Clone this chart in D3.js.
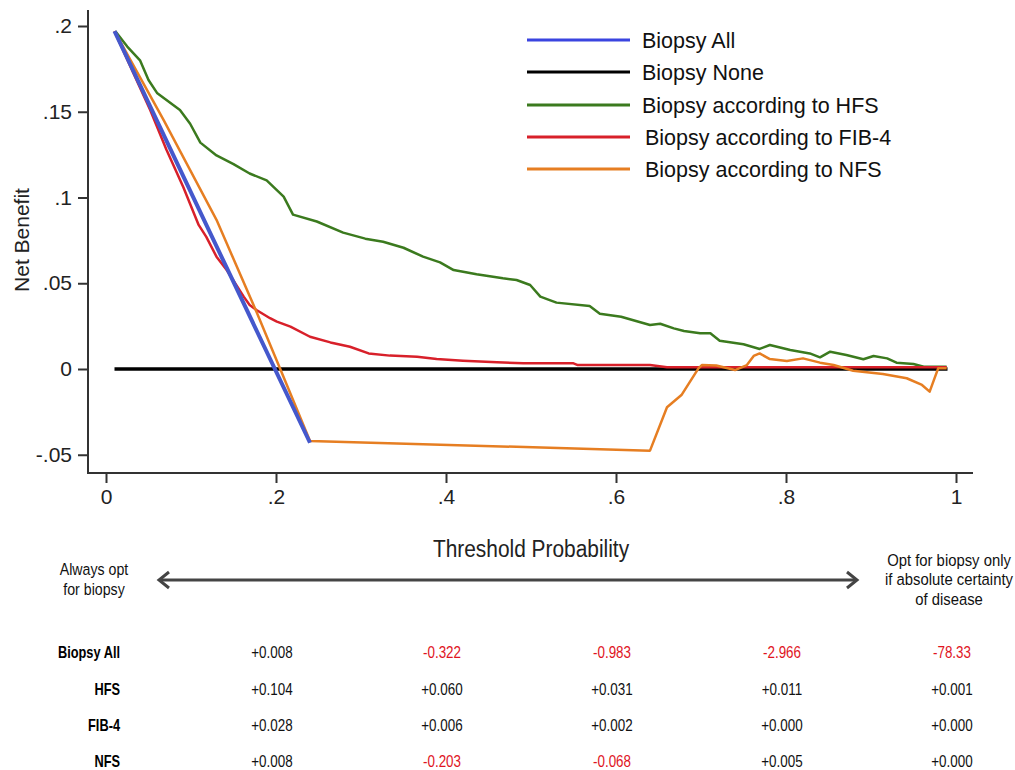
<!DOCTYPE html>
<html>
<head>
<meta charset="utf-8">
<script src="https://cdn.jsdelivr.net/npm/d3@7"></script>
<style>
  body { margin: 0; background: #fff; }
  svg { display: block; }
</style>
</head>
<body>
<svg id="chart" width="1015" height="770"></svg>
<script>
// Decision curve: net benefit by threshold probability
const xTicks = [0, 0.2, 0.4, 0.6, 0.8, 1];
const xTickLabels = ["0", ".2", ".4", ".6", ".8", "1"];
const yTicks = [-0.05, 0, 0.05, 0.1, 0.15, 0.2];
const yTickLabels = ["-.05", "0", ".05", ".1", ".15", ".2"];

const seriesNames = ["Biopsy All", "Biopsy None", "Biopsy according to HFS",
                     "Biopsy according to FIB-4", "Biopsy according to NFS"];
const seriesColors = ["#4558cc", "#000000", "#3b7a1e", "#d8202a", "#e67e22"];

// [threshold, net benefit]
const biopsyAll = [[0.01, 0.197], [0.12, 0.082], [0.24, -0.043]];
const biopsyNone = [[0.01, 0], [0.99, 0]];
const hfs = [
  [0.011, 0.197], [0.025, 0.188], [0.040, 0.180], [0.050, 0.1685], [0.060, 0.161],
  [0.087, 0.151], [0.099, 0.143], [0.111, 0.132], [0.130, 0.1245], [0.150, 0.1195],
  [0.169, 0.114], [0.189, 0.110], [0.209, 0.1005], [0.220, 0.090], [0.248, 0.086],
  [0.279, 0.0795], [0.305, 0.076], [0.326, 0.0742], [0.350, 0.0707], [0.373, 0.0655],
  [0.393, 0.0622], [0.409, 0.0577], [0.436, 0.0552], [0.467, 0.0529], [0.483, 0.0519],
  [0.499, 0.049], [0.511, 0.0422], [0.522, 0.0402], [0.530, 0.0387], [0.569, 0.0367],
  [0.581, 0.0322], [0.606, 0.0305], [0.640, 0.0257], [0.652, 0.0264], [0.668, 0.0237],
  [0.680, 0.0222], [0.699, 0.0208], [0.711, 0.0208], [0.722, 0.0165], [0.750, 0.0144],
  [0.769, 0.0117], [0.781, 0.014], [0.805, 0.0111], [0.828, 0.0091], [0.840, 0.0068],
  [0.852, 0.0101], [0.871, 0.0082], [0.891, 0.0057], [0.903, 0.0076], [0.919, 0.0062],
  [0.930, 0.0037], [0.950, 0.0029], [0.962, 0.0013], [0.989, 0.0013]
];
const fib4 = [
  [0.010, 0.197], [0.030, 0.175], [0.052, 0.151], [0.071, 0.128], [0.091, 0.106],
  [0.109, 0.084], [0.118, 0.077], [0.130, 0.0655], [0.142, 0.0577],
  [0.162, 0.0422], [0.169, 0.0373], [0.177, 0.0344], [0.193, 0.0296], [0.201, 0.0276],
  [0.217, 0.0247], [0.240, 0.0188], [0.264, 0.0155], [0.287, 0.013], [0.309, 0.0091],
  [0.334, 0.0078], [0.366, 0.0072], [0.389, 0.0058], [0.420, 0.0048], [0.460, 0.0039],
  [0.491, 0.0033], [0.522, 0.0033], [0.550, 0.0033], [0.555, 0.0023], [0.640, 0.0023],
  [0.660, 0.0010], [0.989, 0.0010]
];
const nfs = [
  [0.010, 0.197], [0.068, 0.145], [0.130, 0.087], [0.177, 0.0334], [0.205, 0.000],
  [0.240, -0.042], [0.640, -0.0476], [0.660, -0.0223], [0.677, -0.0152], [0.697, 0.0004],
  [0.701, 0.0023], [0.718, 0.0020], [0.740, -0.0006], [0.754, 0.0023], [0.762, 0.0076],
  [0.769, 0.0091], [0.781, 0.0058], [0.801, 0.0047], [0.820, 0.0062], [0.840, 0.0037],
  [0.856, 0.0023], [0.879, -0.001], [0.914, -0.0029], [0.942, -0.0054], [0.960, -0.0093],
  [0.969, -0.0132], [0.979, 0.0004], [0.989, 0.0004]
];

// Net benefit table below the chart
const tableThresholds = [0.2, 0.4, 0.6, 0.8, 1.0];
const tableRowLabels = ["Biopsy All", "HFS", "FIB-4", "NFS"];
const tableAll  = ["+0.008", "-0.322", "-0.983", "-2.966", "-78.33"];
const tableHFS  = ["+0.104", "+0.060", "+0.031", "+0.011", "+0.001"];
const tableFIB4 = ["+0.028", "+0.006", "+0.002", "+0.000", "+0.000"];
const tableNFS  = ["+0.008", "-0.203", "-0.068", "+0.005", "+0.000"];

const svg = d3.select("#chart");
svg.append("rect").attr("width", 1015).attr("height", 770).attr("fill", "#fff");

const x = d3.scaleLinear().domain([0, 1]).range([106, 956]);
const y = d3.scaleLinear().domain([-0.05, 0.2]).range([454.75, 26]);

const axisColor = "#333";
const tickFont = "'Liberation Sans', Arial, sans-serif";

// Y axis
const gy = svg.append("g").attr("transform", "translate(88,0)")
  .call(d3.axisLeft(y).tickValues(yTicks).tickFormat((d, i) => yTickLabels[i])
        .tickSize(10).tickPadding(6));
gy.select(".domain").remove();
gy.selectAll(".tick line").attr("stroke", axisColor).attr("stroke-width", 2);
gy.selectAll(".tick text").attr("font-size", 21).attr("font-family", tickFont).attr("fill", "#222");
svg.append("line").attr("x1", 88).attr("x2", 88).attr("y1", 10).attr("y2", 474)
  .attr("stroke", axisColor).attr("stroke-width", 2);

// X axis
const gx = svg.append("g").attr("transform", "translate(0,473)")
  .call(d3.axisBottom(x).tickValues(xTicks).tickFormat((d, i) => xTickLabels[i])
        .tickSize(10).tickPadding(6));
gx.select(".domain").remove();
gx.selectAll(".tick line").attr("stroke", axisColor).attr("stroke-width", 2);
gx.selectAll(".tick text").attr("font-size", 21).attr("font-family", tickFont).attr("fill", "#222");
svg.append("line").attr("x1", 87).attr("x2", 973).attr("y1", 473).attr("y2", 473)
  .attr("stroke", axisColor).attr("stroke-width", 2);

// Axis titles
svg.append("text").attr("transform", "translate(29,240) rotate(-90)")
  .attr("text-anchor", "middle").attr("font-size", 21).attr("font-family", tickFont)
  .attr("fill", "#222").text("Net Benefit");
svg.append("text").attr("transform", "translate(531,557) scale(0.95,1.05)")
  .attr("text-anchor", "middle").attr("font-size", 22).attr("font-family", tickFont)
  .attr("fill", "#222").text("Threshold Probability");

// Curves
const line = d3.line().x(d => x(d[0])).y(d => y(d[1]));
const curves = [
  { data: biopsyNone, color: seriesColors[1], width: 3.5 },
  { data: hfs, color: seriesColors[2], width: 2.5 },
  { data: fib4, color: seriesColors[3], width: 2.5 },
  { data: nfs, color: seriesColors[4], width: 2.5 },
  { data: biopsyAll, color: seriesColors[0], width: 4 }
];
svg.append("g").selectAll("path").data(curves).join("path")
  .attr("d", d => line(d.data)).attr("fill", "none")
  .attr("stroke", d => d.color).attr("stroke-width", d => d.width)
  .attr("stroke-linejoin", "round");

// Legend
const legendColors = ["#3a44e0", "#000000", "#3b7a1e", "#d8202a", "#e67e22"];
const legendY = [40, 72, 105, 137, 169];
const lg = svg.append("g");
seriesNames.forEach((name, i) => {
  lg.append("line").attr("x1", 527).attr("x2", 630)
    .attr("y1", legendY[i]).attr("y2", legendY[i])
    .attr("stroke", legendColors[i]).attr("stroke-width", 3);
  lg.append("text").attr("x", i < 3 ? 642 : 645).attr("y", legendY[i]).attr("dy", "0.36em")
    .attr("font-size", 21.5).attr("font-family", tickFont).attr("fill", "#111").text(name);
});

// Direction arrow under the axis
const arrowY = 580, ax1 = 158, ax2 = 858;
const arrowColor = "#444";
svg.append("line").attr("x1", ax1 + 2).attr("x2", ax2 - 2).attr("y1", arrowY).attr("y2", arrowY)
  .attr("stroke", arrowColor).attr("stroke-width", 3);
svg.append("path").attr("d", `M${ax1 + 11},${arrowY - 8}L${ax1 + 1},${arrowY}L${ax1 + 11},${arrowY + 8}`)
  .attr("fill", "none").attr("stroke", arrowColor).attr("stroke-width", 3).attr("stroke-linejoin", "miter");
svg.append("path").attr("d", `M${ax2 - 11},${arrowY - 8}L${ax2 - 1},${arrowY}L${ax2 - 11},${arrowY + 8}`)
  .attr("fill", "none").attr("stroke", arrowColor).attr("stroke-width", 3).attr("stroke-linejoin", "miter");

// Condensed small text: horizontally squeezed sans
const smallFont = "'Liberation Sans', Arial, sans-serif";
function smallText(xp, yp, txt, opts) {
  const o = Object.assign({ size: 16, sx: 0.88, anchor: "middle", weight: "normal", fill: "#111" }, opts);
  svg.append("text")
    .attr("transform", `translate(${xp},${yp}) scale(${o.sx},1)`)
    .attr("dy", "0.35em").attr("text-anchor", o.anchor)
    .attr("font-size", o.size).attr("font-weight", o.weight)
    .attr("font-family", smallFont).attr("fill", o.fill).text(txt);
}

const noteLeft = ["Always opt", "for biopsy"];
noteLeft.forEach((t, i) => smallText(94, 569 + i * 20, t, { size: 16.5, sx: 0.86 }));
const noteRight = ["Opt for biopsy only", "if absolute certainty", "of disease"];
noteRight.forEach((t, i) => smallText(949, 560 + i * 19.5, t, { size: 16.5, sx: 0.9 }));

// Table
const tableRows = [tableAll, tableHFS, tableFIB4, tableNFS];
const rowY = [652, 689, 725, 761];
tableRows.forEach((row, r) => {
  smallText(120, rowY[r], tableRowLabels[r], { anchor: "end", weight: "bold", size: 16, sx: 0.8, fill: "#000" });
  row.forEach((v, c) => {
    smallText(x(tableThresholds[c]) - 4, rowY[r], v,
      { size: 16, sx: 0.84, fill: v.startsWith("-") ? "#e0141e" : "#111" });
  });
});
</script>
</body>
</html>
